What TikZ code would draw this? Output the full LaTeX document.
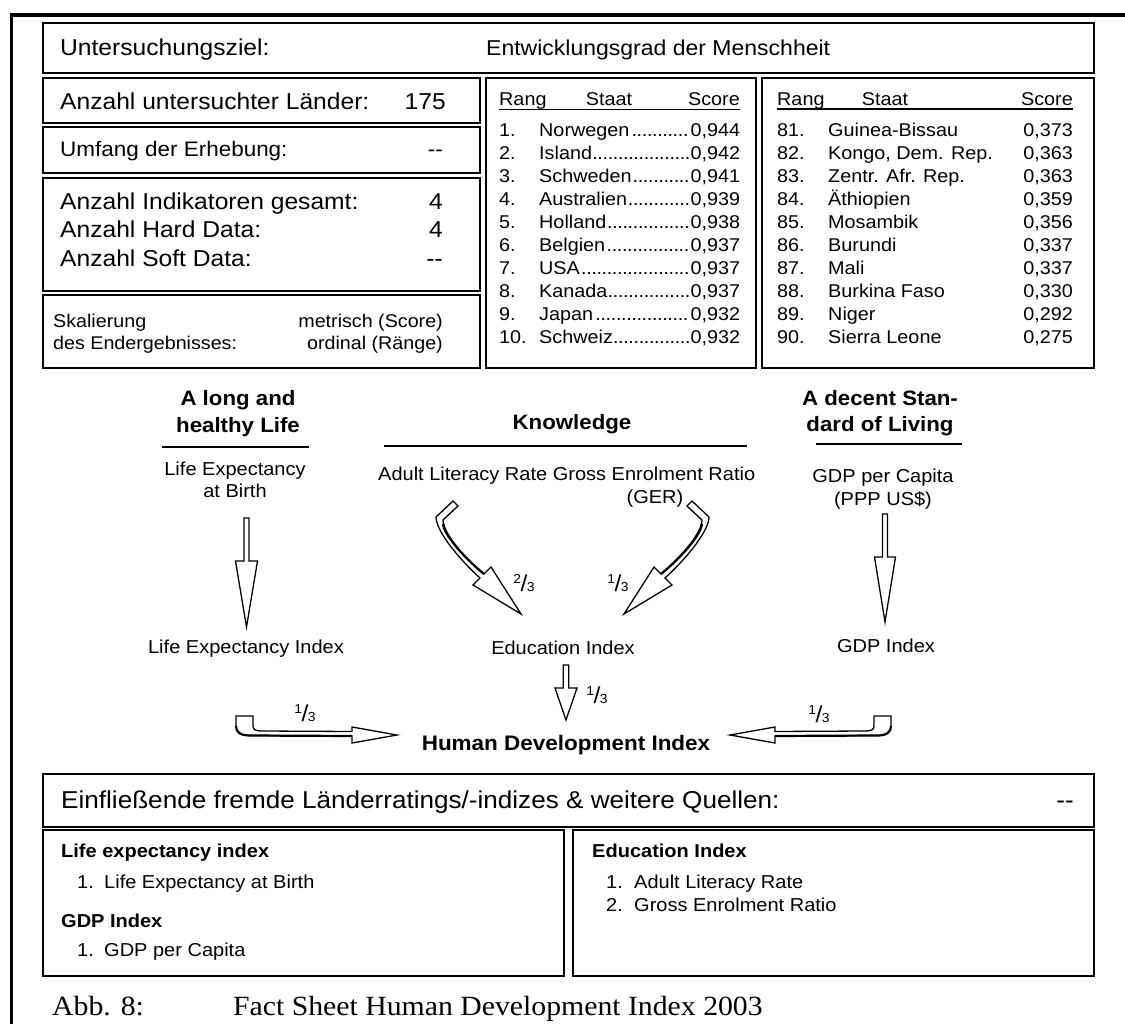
\documentclass[tikz,border=0pt]{standalone}
\usepackage{fontspec}
\setmainfont[FakeStretch=1.07]{Liberation Sans}
\newfontfamily\capfont[FakeStretch=1.07]{Liberation Serif}
\newcommand\setfs[1]{\fontsize{#1}{#1}\selectfont}
\newcommand\mydots{\leavevmode\cleaders\hbox to .278em{\hss.\hss}\hfill\kern0pt}
\newcommand\myfrac[2]{{\setfs{23}\raisebox{8.5pt}{\setfs{13}#1}\kern-.5pt/\kern-.5pt{\setfs{13}#2}}}
\newcommand\fbx[5]{\node[box,anchor=north west,inner sep=0pt,minimum width=#4pt,minimum height=#5pt] (#1) at (#2,#3) {};}
\begin{document}
\begin{tikzpicture}[x=1pt,y=-1pt,
  box/.style={draw,line width=1.9pt},
  lt/.style={inner sep=0pt,anchor=base west},
  rt/.style={inner sep=0pt,anchor=base east},
  ct/.style={inner sep=0pt,anchor=base},
  arr/.style={draw,fill=white,line width=1.3pt,line join=miter},
  rule/.style={line width=1.7pt}]
\useasboundingbox (0,0) rectangle (1125,1024);
\fill[white] (0,0) rectangle (1125,1024);
\draw[line width=3.5pt] (11.7,1024) -- (11.7,15) -- (1125,15);
% boxes
\fbx{goal}{42}{22}{1051}{50}
\fbx{b1}{42}{77}{437}{45}
\fbx{b2}{42}{126}{437}{46}
\fbx{b3}{42}{177}{437}{113}
\fbx{b4}{42}{294}{437}{73}
\fbx{tm}{485}{77}{270}{290}
\fbx{tr}{761}{77}{332}{290}
\fbx{srcbox}{42}{773}{1051}{53}
\fbx{bl}{42}{829}{521}{146}
\fbx{br}{572}{829}{521}{146}
% top box texts
\node[lt,font=\setfs{23}] (goalL) at (60,56) {Untersuchungsziel:};
\node[lt,font=\setfs{21.5}] (goalR) at (486,56) {Entwicklungsgrad der Menschheit};
\node[lt,font=\setfs{23}] (n1) at (60,110) {Anzahl untersuchter Länder:};
\node[rt,font=\setfs{23}] (v1) at (446,110) {175};
\node[lt,font=\setfs{21}] (n2) at (60,157) {Umfang der Erhebung:};
\node[rt,font=\setfs{21}] (v2) at (443,157) {-{}-};
\node[lt,font=\setfs{23}] (n3) at (60,210) {Anzahl Indikatoren gesamt:};
\node[rt,font=\setfs{23}] (v3) at (443,210) {4};
\node[lt,font=\setfs{23}] (n4) at (60,238) {Anzahl Hard Data:};
\node[rt,font=\setfs{23}] (v4) at (443,238) {4};
\node[lt,font=\setfs{23}] (n5) at (60,267) {Anzahl Soft Data:};
\node[rt,font=\setfs{23}] (v5) at (443,267) {-{}-};
\node[lt,font=\setfs{18.4}] (s1) at (53,328) {Skalierung};
\node[rt,font=\setfs{18.4}] (s2) at (443,328) {metrisch (Score)};
\node[lt,font=\setfs{18.4}] (s3) at (53,350) {des Endergebnisses:};
\node[rt,font=\setfs{18.4}] (s4) at (443,350) {ordinal (Ränge)};
% middle table
\node[lt,font=\setfs{18.5}] (mh1) at (499,106) {Rang};
\node[ct,font=\setfs{18.5}] (mh2) at (609,106) {Staat};
\node[rt,font=\setfs{18.5}] (mh3) at (740,106) {Score};
\draw[line width=1.5pt] (499,109.5) -- (740,109.5);
\foreach \n/\s [count=\i from 0] in {Norwegen/{0,944},Island/{0,942},Schweden/{0,941},Australien/{0,939},Holland/{0,938},Belgien/{0,937},USA/{0,937},Kanada/{0,937},Japan/{0,932},Schweiz/{0,932}}{
  \pgfmathsetmacro\yy{136.6+23*\i}
  \node[lt,font=\setfs{18.5}] (mr\i) at (499,\yy) {\the\numexpr\i+1\relax.};
  \node[lt,font=\setfs{18.5}] (mn\i) at (539,\yy) {\makebox[201pt][s]{\n\mydots\s}};
}
% right table
\node[lt,font=\setfs{18.5}] (rh1) at (777,105.5) {Rang};
\node[ct,font=\setfs{18.5}] (rh2) at (885,105.5) {Staat};
\node[rt,font=\setfs{18.5}] (rh3) at (1073,105.5) {Score};
\draw[line width=1.5pt] (777,109) -- (1073,109);
\foreach \n/\s [count=\i from 0] in {Guinea-Bissau/{0,373},{Kongo, Dem. Rep.}/{0,363},Zentr. Afr. Rep./{0,363},Äthiopien/{0,359},Mosambik/{0,356},Burundi/{0,337},Mali/{0,337},Burkina Faso/{0,330},Niger/{0,292},Sierra Leone/{0,275}}{
  \pgfmathsetmacro\yy{136.6+23*\i}
  \node[lt,font=\setfs{18.5}] (rr\i) at (777,\yy) {\the\numexpr81+\i\relax.};
  \node[lt,font=\setfs{18.5}] (rn\i) at (828,\yy) {\n};
  \node[rt,font=\setfs{18.5}] (rs\i) at (1073,\yy) {\s};
}
% diagram headings
\node[ct,font=\bfseries\setfs{20.8}] (h1a) at (238,406) {A long and};
\node[ct,font=\bfseries\setfs{20.8}] (h1b) at (238,432) {healthy Life};
\draw[rule] (162,447) -- (309,447);
\node[ct,font=\bfseries\setfs{20.8}] (h2) at (572,429) {Knowledge};
\draw[rule] (384,446) -- (747,446);
\node[ct,font=\bfseries\setfs{20.8}] (h3a) at (880,406) {A decent Stan-};
\node[ct,font=\bfseries\setfs{20.8}] (h3b) at (880,431) {dard of Living};
\draw[rule] (816,444) -- (962,444);
% indicator labels
\node[ct,font=\setfs{18.7}] (le1) at (235,475) {Life Expectancy};
\node[ct,font=\setfs{18.7}] (le2) at (235,497) {at Birth};
\node[lt,font=\setfs{18.7}] (al) at (378,480) {Adult Literacy Rate Gross Enrolment Ratio};
\node[ct,font=\setfs{18.7}] (ger) at (655,503) {(GER)};
\node[ct,font=\setfs{18.7}] (gdp1) at (883,482) {GDP per Capita};
\node[ct,font=\setfs{18.7}] (gdp2) at (883,505) {(PPP US\$)};
\node[ct,font=\setfs{18.7}] (lei) at (246,653) {Life Expectancy Index};
\node[ct,font=\setfs{18.7}] (edi) at (563,654) {Education Index};
\node[ct,font=\setfs{18.7}] (gdpi) at (886,652) {GDP Index};
\node[ct,font=\bfseries\setfs{21}] (hdi) at (566,750) {Human Development Index};
% straight block arrows
\draw[arr] (244,518) -- (249,518) -- (249,561) -- (257.5,561) -- (246.5,627) -- (235.5,561) -- (244,561) -- cycle;
\draw[arr] (882.5,514) -- (887.5,514) -- (887.5,557) -- (895.5,557) -- (885,622) -- (874.5,557) -- (882.5,557) -- cycle;
\draw[arr] (563.3,665) -- (568.7,665) -- (568.7,688) -- (577,688) -- (566,720) -- (555,688) -- (563.3,688) -- cycle;
% curved block arrows (top)
\draw[arr] (453,501) -- (458,506) -- (443,520) .. controls (443,532) and (462,556) .. (484,574) -- (491,567) -- (521,614) -- (473,585) -- (480,578) .. controls (456,556) and (436,530) .. (436,517) -- cycle;
\draw[line width=2.3pt] (443,524) .. controls (444,534) and (462,556) .. (484,574);
\draw[arr] (692,501) -- (687,506) -- (702,520) .. controls (702,532) and (683,556) .. (661,574) -- (654,567) -- (624,614) -- (672,585) -- (665,578) .. controls (689,556) and (709,530) .. (709,517) -- cycle;
\draw[line width=2.3pt] (702,524) .. controls (701,534) and (683,556) .. (661,574);
% curved block arrows (bottom)
\draw[arr] (236,716) -- (253,716) -- (253,726) .. controls (253,730) and (256,731) .. (262,731) -- (352,731.5) -- (352,727) -- (397,735) -- (352,743) -- (352,736) -- (250,735.5) .. controls (240,735.5) and (236,732) .. (236,726) -- cycle;
\draw[line width=2.2pt] (352,736) -- (250,735.5) .. controls (240,735.5) and (236,732) .. (236,726);
\draw[arr] (891,716) -- (874,716) -- (874,726) .. controls (874,730) and (871,731) .. (865,731) -- (775,731.5) -- (775,727) -- (730,735) -- (775,743) -- (775,736) -- (877,735.5) .. controls (887,735.5) and (891,732) .. (891,726) -- cycle;
\draw[line width=2.2pt] (775,736) -- (877,735.5) .. controls (887,735.5) and (891,732) .. (891,726);
% weights
\node[inner sep=0pt] (f1) at (524,583) {\myfrac{2}{3}};
\node[inner sep=0pt] (f2) at (618,583) {\myfrac{1}{3}};
\node[inner sep=0pt] (f3) at (597,695) {\myfrac{1}{3}};
\node[inner sep=0pt] (f4) at (305,713) {\myfrac{1}{3}};
\node[inner sep=0pt] (f5) at (819,714) {\myfrac{1}{3}};
% sources
\node[lt,font=\setfs{24.4}] (srct) at (61,808) {Einfließende fremde Länderratings/-indizes \& weitere Quellen:};
\node[rt,font=\setfs{24.4}] (srcv) at (1074,808) {-{}-};
\node[lt,font=\bfseries\setfs{18.7}] (lh1) at (61,857) {Life expectancy index};
\node[lt,font=\setfs{18.7}] (ln1) at (77,888) {1.};
\node[lt,font=\setfs{18.7}] (lt1) at (104,888) {Life Expectancy at Birth};
\node[lt,font=\bfseries\setfs{18.7}] (lh2) at (61,927) {GDP Index};
\node[lt,font=\setfs{18.7}] (ln2) at (77,956) {1.};
\node[lt,font=\setfs{18.7}] (lt2) at (104,956) {GDP per Capita};
\node[lt,font=\bfseries\setfs{18.7}] (rh) at (592,857) {Education Index};
\node[lt,font=\setfs{18.7}] (rn1) at (606,888) {1.};
\node[lt,font=\setfs{18.7}] (rt1) at (634,888) {Adult Literacy Rate};
\node[lt,font=\setfs{18.7}] (rn2) at (606,911) {2.};
\node[lt,font=\setfs{18.7}] (rt2) at (634,911) {Gross Enrolment Ratio};
% caption
\node[lt,font=\capfont\setfs{27.8}] (cap1) at (52,1015) {Abb. 8:};
\node[lt,font=\capfont\setfs{27.8}] (cap2) at (233,1015) {Fact Sheet Human Development Index 2003};
\end{tikzpicture}
\end{document}
